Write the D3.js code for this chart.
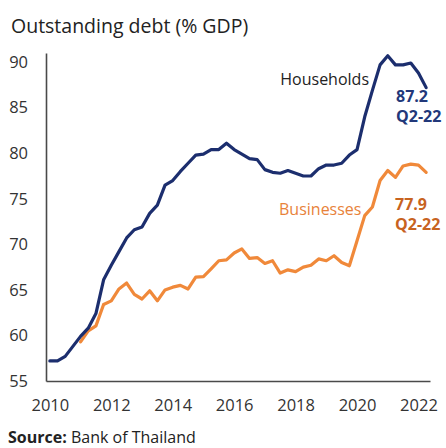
<!DOCTYPE html>
<html>
<head>
<meta charset="utf-8">
<script src="https://cdn.jsdelivr.net/npm/d3@7"></script>
<style>
  html, body { margin: 0; padding: 0; background: #fff; }
  svg { display: block; font-family: "Open Sans", "Noto Sans", sans-serif; }
</style>
</head>
<body>
<svg id="chart" width="446" height="448"></svg>
<script>
// Outstanding debt, % of GDP, quarterly
const householdStart = 2010;   // 2010 Q1
const householdDebt = [
  57.2, 57.2, 57.7, 58.8, 59.9, 60.8, 62.4, 66.1, 67.7, 69.2,
  70.7, 71.6, 71.9, 73.4, 74.3, 76.5, 77.0, 78.0, 78.9, 79.8,
  79.9, 80.4, 80.4, 81.1, 80.4, 79.9, 79.4, 79.3, 78.2, 77.9,
  77.8, 78.1, 77.8, 77.5, 77.5, 78.3, 78.7, 78.7, 78.9, 79.8,
  80.4, 84.0, 86.9, 89.7, 90.7, 89.7, 89.7, 89.9, 88.8, 87.2
];
const businessStart = 2011;    // 2011 Q1
const businessDebt = [
  59.3, 60.5, 61.05, 63.4, 63.8, 65.1, 65.75, 64.5, 64.0, 64.9,
  63.8, 65.0, 65.3, 65.5, 65.1, 66.4, 66.45, 67.3, 68.2, 68.3,
  69.05, 69.5, 68.45, 68.55, 67.9, 68.2, 66.85, 67.2, 67.0, 67.5,
  67.7, 68.4, 68.2, 68.75, 68.0, 67.65, 70.4, 73.15, 74.1, 77.0,
  78.1, 77.35, 78.6, 78.8, 78.7, 77.9
];
const yTicks = [55, 60, 65, 70, 75, 80, 85, 90];
const xTicks = [2010, 2012, 2014, 2016, 2018, 2020, 2022];
const lastQuarterLabel = "Q2-22";

const navy = "#1c2e6e";
const orange = "#f0893a";

const toSeries = (start, vals) => vals.map((v, i) => ({ t: start + i / 4, v }));
const households = toSeries(householdStart, householdDebt);
const businesses = toSeries(businessStart, businessDebt);

const svg = d3.select("#chart");

const x = d3.scaleLinear().domain([2009.875, 2022.375]).range([46, 430]);
const y = d3.scaleLinear().domain([55, 91]).range([381, 53]);

// title
svg.append("text")
  .attr("x", 11).attr("y", 33)
  .attr("font-size", 19.5).attr("fill", "#222")
  .text("Outstanding debt (% GDP)");

// axes
const yAxis = svg.append("g")
  .attr("transform", `translate(${x.range()[0]},0)`)
  .call(d3.axisLeft(y).tickValues(yTicks).tickSize(0).tickPadding(18).tickFormat(d3.format("d")));
const xAxis = svg.append("g")
  .attr("transform", `translate(0,${y.range()[0]})`)
  .call(d3.axisBottom(x).tickValues(xTicks).tickSize(0).tickPadding(18).tickFormat(d3.format("d")));

[yAxis, xAxis].forEach(g => {
  g.select(".domain").attr("stroke", "#4a4a4a").attr("stroke-width", 1.6);
  g.selectAll("text").attr("font-size", 16.5).attr("fill", "#333")
    .attr("font-family", "\"Open Sans\", \"Noto Sans\", sans-serif");
});

// lines
const line = d3.line().x(d => x(d.t)).y(d => y(d.v)).curve(d3.curveLinear);

svg.append("path").datum(businesses)
  .attr("fill", "none").attr("stroke", orange).attr("stroke-width", 3.2)
  .attr("stroke-linejoin", "round").attr("stroke-linecap", "round")
  .attr("d", line);

svg.append("path").datum(households)
  .attr("fill", "none").attr("stroke", navy).attr("stroke-width", 3.2)
  .attr("stroke-linejoin", "round").attr("stroke-linecap", "round")
  .attr("d", line);

// series labels
svg.append("text")
  .attr("x", 369).attr("y", 85).attr("text-anchor", "end")
  .attr("font-size", 16).attr("fill", "#222")
  .text("Households");

svg.append("text")
  .attr("x", 279).attr("y", 215)
  .attr("font-size", 16).attr("fill", "#e8823a")
  .text("Businesses");

// latest values
const hLast = households[households.length - 1];
const bLast = businesses[businesses.length - 1];

const hLab = svg.append("text")
  .attr("x", 396).attr("y", 102)
  .attr("font-size", 16).attr("font-weight", "bold").attr("fill", "#22387a");
hLab.append("tspan").attr("x", 396).text(hLast.v.toFixed(1));
hLab.append("tspan").attr("x", 396).attr("dy", 20).text(lastQuarterLabel);

const bLab = svg.append("text")
  .attr("x", 395).attr("y", 210)
  .attr("font-size", 16).attr("font-weight", "bold").attr("fill", "#c8631f");
bLab.append("tspan").attr("x", 395).text(bLast.v.toFixed(1));
bLab.append("tspan").attr("x", 395).attr("dy", 20).text(lastQuarterLabel);

// source note
const src = svg.append("text")
  .attr("x", 8).attr("y", 443)
  .attr("font-size", 16).attr("fill", "#222");
src.append("tspan").attr("font-weight", "bold").text("Source:");
src.append("tspan").text(" Bank of Thailand");
</script>
</body>
</html>
